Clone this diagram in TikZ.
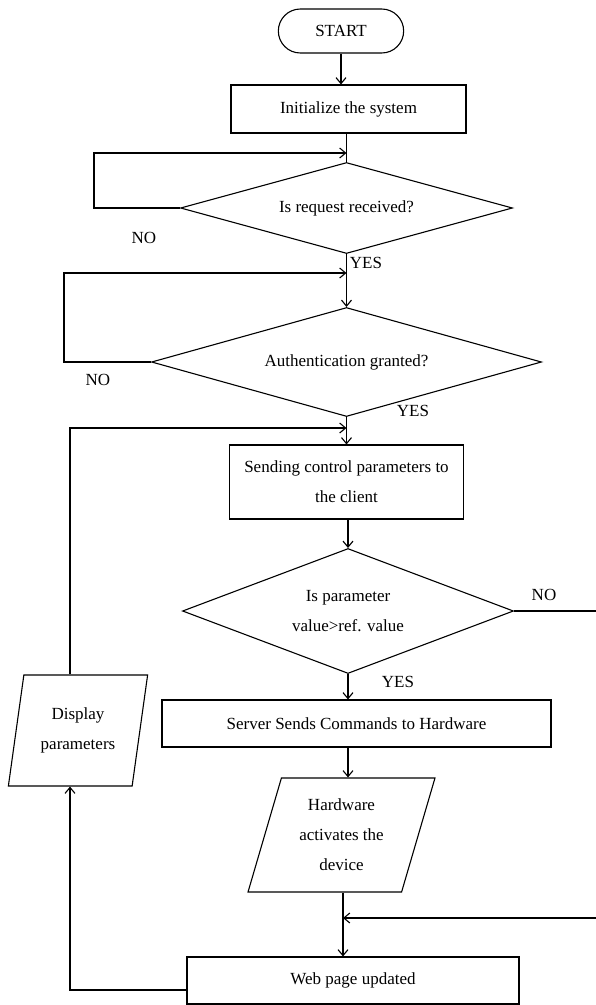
\documentclass[tikz,border=0pt]{standalone}
\usepackage{fontspec}
\setmainfont{Liberation Serif}
\usepackage{tikz}
\usetikzlibrary{arrows.meta, shapes.geometric, shapes.misc}
\newcommand{\chartfont}{\fontsize{17}{30}\selectfont}
\tikzset{
  sn/.style={draw,line width=1.1pt,rounded rectangle,minimum width=132pt,minimum height=44pt,font=\chartfont},
  bn/.style={draw,line width=1.1pt,rectangle,align=center,font=\chartfont},
  dn/.style={draw,line width=1.1pt,diamond,align=center,inner sep=1pt,font=\chartfont},
  pn/.style={draw,line width=1.1pt,trapezium,trapezium stretches=true,align=center,inner sep=1pt,font=\chartfont},
  to/.style={-{Straight Barb[length=6pt,width=10pt]},line width=1.1pt},
  ln/.style={line width=1.1pt},
  lb/.style={font=\chartfont,inner sep=0pt},
}

\begin{document}
\begin{tikzpicture}[x=1pt,y=-1pt]
  \useasboundingbox (0,0) rectangle (596,1005);

  \node [sn] (start) at (341,31) {START};
  \node [bn,minimum width=235pt,minimum height=48pt] (init) at (348.5,109) {Initialize the system};
  \node [dn,minimum width=332pt,minimum height=91pt,aspect=3.6] (req) at (346.5,208) {Is request received?};
  \node [dn,minimum width=390pt,minimum height=109pt,aspect=3.6] (auth) at (346.5,362) {Authentication granted?};
  \node [bn,minimum width=234pt,minimum height=74pt] (send) at (346.5,482) {Sending control parameters to\\the client};
  \node [dn,minimum width=331pt,minimum height=125pt,aspect=2.6] (cmp) at (348,611) {Is parameter\\value>ref. value};
  \node [bn,minimum width=389pt,minimum height=47pt] (srv) at (356.5,723.5) {Server Sends Commands to Hardware};
  \node [pn,trapezium left angle=72,trapezium right angle=108,minimum width=187pt,minimum height=114pt] (hw) at (341.5,835) {Hardware\\activates the\\device};
  \node [pn,trapezium left angle=77,trapezium right angle=103,minimum width=140pt,minimum height=111pt] (disp) at (78,730.5) {Display\\parameters};
  \node [bn,minimum width=332pt,minimum height=47pt] (web) at (353,980.5) {Web page updated};

  % branch labels
  \node [lb] (no1) at (144,238) {NO};
  \node [lb] (yes1) at (366,263) {YES};
  \node [lb] (no2) at (98,380) {NO};
  \node [lb] (yes2) at (413,411) {YES};
  \node [lb] (no3) at (544,595) {NO};
  \node [lb] (yes3) at (398,682) {YES};

  % junctions and page edges
  \coordinate (lx) at (70,0);
  \coordinate (rx) at (597,0);
  \coordinate (j1) at (346.5,153);
  \coordinate (j2) at (346.5,273);
  \coordinate (j3) at (346.5,428);
  \coordinate (j4) at (343,918);

  \draw [to] (start.south) -- (start.south |- init.north);
  \draw [ln] (req.north |- init.south) -- (req.north);
  \draw [to] (req.west) -- ++(-86,0) |- (j1);
  \draw [to] (req.south) -- (auth.north);
  \draw [to] (auth.west) -- ++(-87,0) |- (j2);
  \draw [to] (auth.south) -- (send.north);
  \draw [to] (disp.north -| lx) |- (j3);
  \draw [to] (cmp.north |- send.south) -- (cmp.north);
  \draw [ln] (cmp.east) -- (cmp.east -| rx);
  \draw [to] (cmp.south) -- (cmp.south |- srv.north);
  \draw [to] (srv.south -| cmp.south) -- (hw.north -| cmp.south);
  \draw [to] (hw.south -| j4) -- (web.north -| j4);
  \draw [to] (j4 -| rx) -- (j4);
  \draw [to] ([yshift=-9.5pt]web.west) -| (disp.south -| lx);
\end{tikzpicture}
\end{document}
